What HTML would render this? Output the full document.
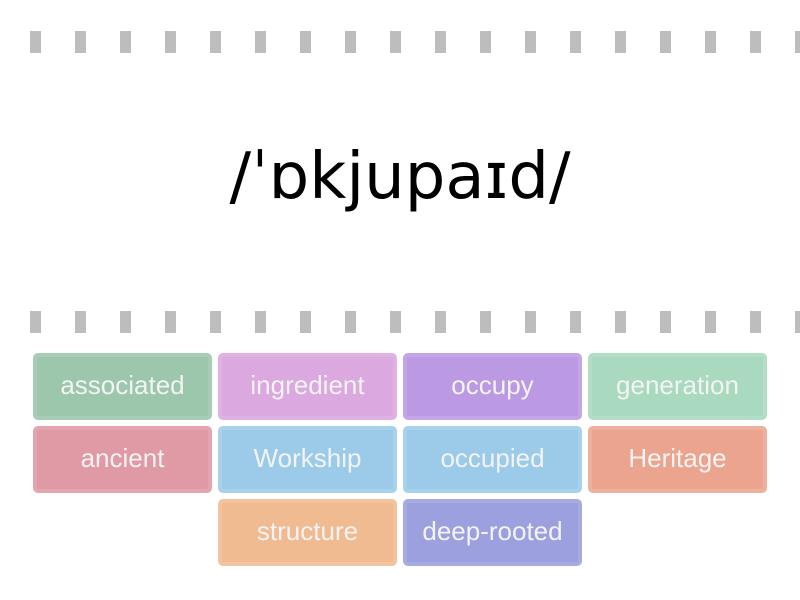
<!DOCTYPE html>
<html><head><meta charset="utf-8"><style>
body{margin:0;width:800px;height:600px;background:#fff;position:relative;overflow:hidden;font-family:"Liberation Sans","DejaVu Sans",sans-serif}
.d{position:absolute;width:11px;height:22px;background:#bdbdbd}
.t{position:absolute;width:179px;height:67px;border-radius:5px;box-sizing:border-box;color:#f3f3f3;font-size:26px;text-align:center;line-height:64px;box-shadow:inset 0 0 0 4px rgba(255,255,255,0.12)}
.ph{position:absolute;left:0;width:800px;top:140px;text-align:center;font-size:64px;font-family:"DejaVu Sans",sans-serif;color:#000}
</style></head><body>
<div id="dashes"></div>
<div class="ph">/ˈɒkjupaɪd/</div>
<div class="t" style="left:33px;top:353px;background:#9cc7ac">associated</div>
<div class="t" style="left:218px;top:353px;background:#dba8df">ingredient</div>
<div class="t" style="left:403px;top:353px;background:#bc9ae3">occupy</div>
<div class="t" style="left:588px;top:353px;background:#a9d9be">generation</div>
<div class="t" style="left:33px;top:426px;background:#e09aa6">ancient</div>
<div class="t" style="left:218px;top:426px;background:#9ccbea">Workship</div>
<div class="t" style="left:403px;top:426px;background:#9ccbea">occupied</div>
<div class="t" style="left:588px;top:426px;background:#eba58f">Heritage</div>
<div class="t" style="left:218px;top:499px;background:#f0bb91">structure</div>
<div class="t" style="left:403px;top:499px;background:#9ca0df">deep-rooted</div>
<script>
var h='';for(var i=0;i<18;i++){var x=30+i*45;h+='<div class="d" style="left:'+x+'px;top:31px"></div><div class="d" style="left:'+x+'px;top:311px"></div>';}
document.getElementById('dashes').innerHTML=h;
</script>
</body></html>
